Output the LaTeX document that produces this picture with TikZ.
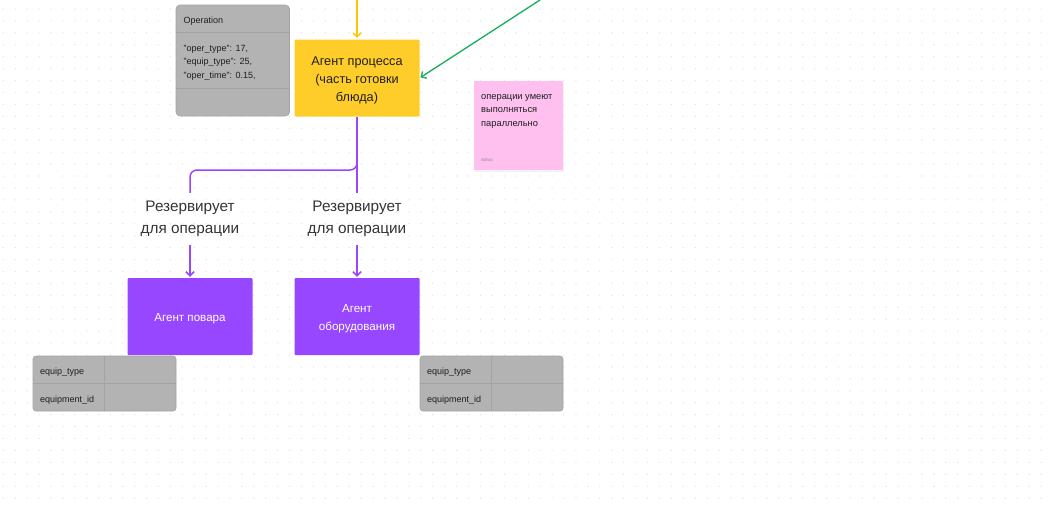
\documentclass[tikz,border=0pt]{standalone}
\usepackage{fontspec}
\setmainfont{Liberation Sans}
\usetikzlibrary{arrows.meta}

\definecolor{cardgrey}{HTML}{B3B3B3}
\definecolor{cardline}{HTML}{A3A3A3}
\definecolor{procyellow}{HTML}{FFCD29}
\definecolor{arrowyellow}{HTML}{FFC700}
\definecolor{agentpurple}{HTML}{9747FF}
\definecolor{notepink}{HTML}{FFC0F0}
\definecolor{linkgreen}{HTML}{14AE5C}
\definecolor{inktext}{HTML}{1E1E1E}
\definecolor{dotgrey}{HTML}{E2E2E2}

\tikzset{
  agent/.style={minimum width=125pt,minimum height=77pt,inner sep=0pt,rounded corners=1pt},
  agenttext/.style={inner sep=0pt,align=center,font=\fontsize{11.6}{18}\selectfont},
  card/.style={fill=cardgrey,draw=cardline,line width=0.6pt,rounded corners=4pt,inner sep=0pt},
  cell/.style={draw=cardline,line width=0.6pt},
  cardtext/.style={anchor=west,inner sep=0pt,align=left,text=inktext,font=\fontsize{9}{13.5}\selectfont},
  reserve/.style={minimum height=52pt,inner sep=0pt,align=center,text=inktext!90,font=\fontsize{15.3}{22}\selectfont},
  wire/.style={draw=agentpurple,line width=1.5pt},
  tip/.style={-{Straight Barb[length=4pt,width=8pt]}}
}

\begin{document}
\begin{tikzpicture}[x=1pt,y=-1pt]
                    \fill[white] (0,0) rectangle (1049,506);
                    \useasboundingbox (0,0) rectangle (1049,506);
                    \def\pitch{11.93}
                    % the dot grid of the board
                    \foreach \i in {0,...,87}
                      \foreach \j in {0,...,41}
                        \fill[dotgrey] (3.3+\i*\pitch,9+\j*\pitch) circle[radius=0.7pt];

                    % the agents
                    \node[agent,fill=procyellow] (proc) at (357,78) {};
                    \node[agent,fill=agentpurple] (cook) at (190,316.5) {};
                    \node[agent,fill=agentpurple] (equip) at (357,316.5) {};
                    \node[agenttext,text=inktext,font=\fontsize{12.7}{18}\selectfont] (proctext) at ([yshift=-2pt]proc.center) {Агент процесса\\(часть готовки\\блюда)};
                    \node[agenttext,text=white] (cooktext) at ([yshift=-2pt]cook.center) {Агент повара};
                    \node[agenttext,text=white] (equiptext) at ([yshift=-2pt]equip.center) {Агент\\оборудования};

                    % the operation card
                    \node[card,minimum width=113.5pt,minimum height=111pt] (opcard) at (232.75,60.5) {};
                    \draw[cell] ([yshift=-28pt]opcard.north west) -- ([yshift=-28pt]opcard.north east);
                    \draw[cell] ([yshift=28pt]opcard.south west) -- ([yshift=28pt]opcard.south east);
                    \node[cardtext] (ophead) at (183.5,21) {Operation};
                    \node[cardtext] (opbody) at (183.5,62.5) {"oper\_type": 17,\\"equip\_type": 25,\\"oper\_time": 0.15,};

                    % the sticky note
                    \fill[black!5] (475,83) rectangle (564,171.5);
                    \node[fill=notepink,minimum width=89pt,minimum height=89pt,inner sep=0pt] (note) at (518.5,125.5) {};
                    \node[anchor=west,inner sep=0pt,align=left,text=inktext,font=\fontsize{9.3}{13.5}\selectfont] (notetext) at (481,111) {операции умеют\\выполняться\\параллельно};
                    \node[anchor=west,inner sep=0pt,text=black!45,font=\fontsize{4.5}{5}\selectfont] (noteauthor) at (481,160) {Adrax};

                    % the two tables under the agents
                    \node[card,rounded corners=3pt,minimum width=143pt,minimum height=55pt] (cooktab) at (104.5,383.5) {};
                    \draw[cell] (cooktab.north) -- (cooktab.south);
                    \draw[cell] (cooktab.west) -- (cooktab.east);
                    \node[cardtext] (cooktype) at (40,372) {equip\_type};
                    \node[cardtext] (cookid) at (40,400) {equipment\_id};

                    \node[card,rounded corners=3pt,minimum width=143pt,minimum height=55pt] (equiptab) at (491.5,383.5) {};
                    \draw[cell] (equiptab.north) -- (equiptab.south);
                    \draw[cell] (equiptab.west) -- (equiptab.east);
                    \node[cardtext] (equiptype) at (427,372) {equip\_type};
                    \node[cardtext] (equipid) at (427,400) {equipment\_id};

                    % the labels on the purple links
                    \node[reserve] (resL) at (190,219) {Резервирует\\для операции};
                    \node[reserve] (resR) at (357,219) {Резервирует\\для операции};

                    % the links
                    \coordinate (ytop) at (357,0);
                    \coordinate (gtop) at (540,0);
                    \coordinate (fork) at (357,150);
                    \coordinate (bend) at (190,170);
                    \draw[arrowyellow,line width=1.3pt,tip,shorten >=1.5pt] (ytop) -- (proc.north);
                    \draw[linkgreen,line width=1.3pt,tip,shorten >=1pt] (gtop) -- (proc.east);
                    \draw[wire] (proc.south) -- (resR.north);
                    \draw[wire,rounded corners=7pt] (fork) |- (bend) -- (resL.north);
                    \draw[wire,tip,shorten >=1pt] (resL.south) -- (cook.north);
                    \draw[wire,tip,shorten >=1pt] (resR.south) -- (equip.north);
                \end{tikzpicture}
\end{document}
